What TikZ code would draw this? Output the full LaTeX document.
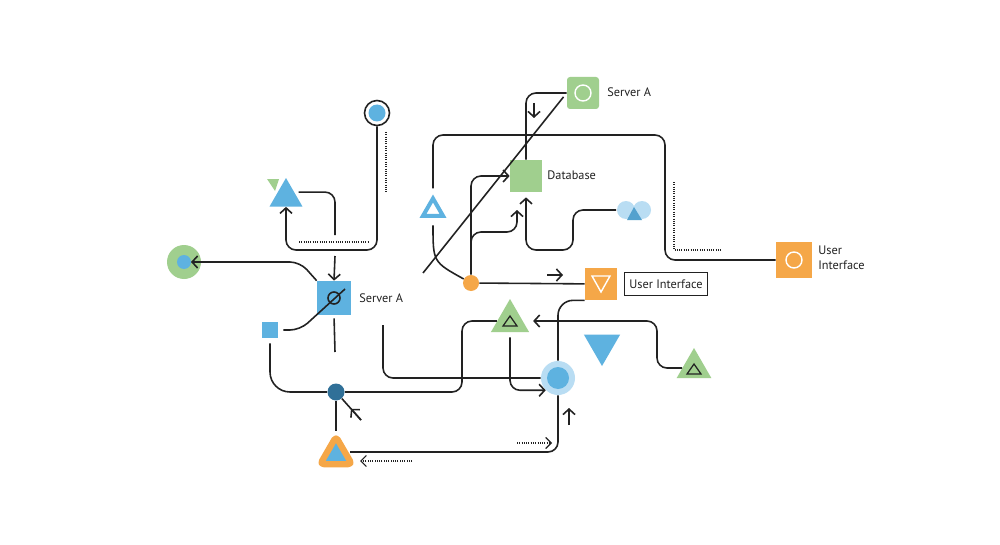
\documentclass[tikz,border=0pt]{standalone}
\usepackage{fontspec}
\setmainfont{PT Sans}
\usetikzlibrary{shapes.geometric,arrows.meta,calc}

\definecolor{lineblk}{RGB}{34,34,34}
\definecolor{nodeblue}{RGB}{94,178,224}
\definecolor{paleblue}{RGB}{185,221,243}
\definecolor{deepblue}{RGB}{48,112,152}
\definecolor{leafgreen}{RGB}{160,207,142}
\definecolor{amber}{RGB}{245,167,72}

\tikzset{
	conn/.style={draw=lineblk, line width=0.9pt, rounded corners=2mm},
	arr/.style={conn, -{Straight Barb[length=1.1mm,width=2.4mm]}},
	dots/.style={draw=lineblk, line width=0.7pt, dash pattern=on 0.5pt off 0.8pt},
	dotarr/.style={dots, -{Straight Barb[length=1.1mm,width=2.2mm]}},
	sqbox/.style={rectangle, minimum size=#1, inner sep=0pt},
	tri/.style={regular polygon, regular polygon sides=3, minimum size=#1, inner sep=0pt},
	lbl/.style={anchor=west, inner sep=0pt, text=lineblk, font=\fontsize{7}{8.5}\selectfont},
}

\begin{document}
\begin{tikzpicture}[x=0.2mm, y=-0.2mm]
	\fill[white] (0,0) rectangle (1000,545);
	\useasboundingbox (0,0) rectangle (1000,545);

	\node[circle, draw=lineblk, line width=0.9pt, fill=white, minimum size=5mm, inner sep=0pt, path picture={\fill[nodeblue] (path picture bounding box.center) circle (1.7mm);}] (topc) at (377,113) {};
	\node[circle, fill=leafgreen, minimum size=6.8mm, inner sep=0pt, path picture={\fill[nodeblue] (path picture bounding box.center) circle (1.4mm);}] (greenc) at (184,262) {};
	\node[tri=7.6mm, fill=nodeblue] (btri) at (286,197) {};
	\fill[leafgreen] (267,179) -- (279,179) -- (275,191) -- cycle;
	\node[sqbox=6.8mm, fill=nodeblue] (srvA) at (334,298) {};
	\node[lbl] (srvAl) at (359,298) {Server A};
	\node[sqbox=3.2mm, fill=nodeblue] (sq) at (270,330) {};
	\node[circle, fill=deepblue, minimum size=3.4mm, inner sep=0pt] (dk) at (336,392) {};
	\node[tri=7.3mm, fill=nodeblue, draw=amber, line width=1.25mm, line join=round, rounded corners=0.7mm] (otri) at (336,455) {};
	\node[circle, fill=paleblue, minimum size=6.8mm, inner sep=0pt, path picture={\fill[nodeblue] (path picture bounding box.center) circle (2.2mm);}] (bc) at (558,378) {};
	\node[tri=8.8mm, fill=leafgreen] (gt1) at (510,321) {};
	\draw[lineblk, line width=0.7pt] ($(gt1)+(-7,5)$) -- ($(gt1)+(0,-5)$) -- ($(gt1)+(7,5)$) -- cycle;
	\node[tri=8mm, fill=leafgreen] (gt2) at (694,368) {};
	\draw[lineblk, line width=0.7pt] ($(gt2)+(-7,6)$) -- ($(gt2)+(0,-4)$) -- ($(gt2)+(7,6)$) -- cycle;
	\node[tri=8.4mm, fill=nodeblue, shape border rotate=180] (inv) at (602,345) {};
	\node[circle, fill=amber, minimum size=3.2mm, inner sep=0pt] (ora) at (471,283) {};
	\node[sqbox=6.4mm, fill=amber] (uim) at (601,284) {};
	\draw[white, line width=0.8pt] ($(uim)+(-9,-8)$) -- ($(uim)+(9,-8)$) -- ($(uim)+(0,8)$) -- cycle;
	\node[draw=lineblk, line width=0.8pt, minimum width=16.6mm, minimum height=4.6mm, inner sep=0pt, text=lineblk, font=\fontsize{7}{8.5}\selectfont] (uibox) at (666,284) {User Interface};
	\node[sqbox=7.2mm, fill=amber, path picture={\draw[white, line width=0.8pt] (path picture bounding box.center) circle (1.6mm);}] (uir) at (794,260) {};
	\node[lbl, align=left] (uirl) at (818,258) {User\\Interface};
	\node[sqbox=6.4mm, fill=leafgreen] (db) at (526,176) {};
	\node[lbl] (dbl) at (547,175) {Database};
	\node[sqbox=6.4mm, fill=leafgreen, rounded corners=0.6mm, path picture={\draw[white, line width=0.8pt] (path picture bounding box.center) circle (1.6mm);}] (srvB) at (583,93) {};
	\node[lbl] (srvBl) at (607,92) {Server A};
	\node[minimum width=7mm, minimum height=3.6mm, inner sep=0pt] (bub) at (634,210) {};
	\fill[paleblue] ($(bub)+(-8,0)$) circle (1.8mm) ($(bub)+(8,0)$) circle (1.8mm);
	\fill[nodeblue!75!deepblue] ($(bub)+(-7,10)$) -- ($(bub)+(0,-3)$) -- ($(bub)+(8,10)$) -- cycle;
	\node[tri=4.6mm, draw=nodeblue, line width=0.8mm, fill=white] (ot) at (433,210) {};

	\coordinate (s1) at (335,235);
	\coordinate (s2) at (335,256);
	\coordinate (s3) at (345,289);
	\coordinate (s4) at (335,352);
	\coordinate (s5) at (361,420);
	\coordinate (s10) at (383,325);
	\coordinate (s11) at (423,273);
	\coordinate (s13) at (471,250);
	\coordinate (s14) at (517,210);
	\coordinate (d1) at (517,443);
	\coordinate (d2) at (552,443);
	\coordinate (d3) at (412,461);
	\coordinate (d4) at (360,461);
	\coordinate (u1) at (569,425);
	\coordinate (u2) at (569,408);
	\coordinate (r1) at (547,275);
	\coordinate (r2) at (563,275);
	\coordinate (w1) at (534,103);
	\coordinate (w2) at (534,118);

	\draw[arr] (topc.south) |- (286,250) -- (btri.south);
	\draw[conn, shorten <=0.8mm] (btri.side 3) -| (s1);
	\draw[arr] (s2) -- (srvA.north);
	\draw[arr, shorten >=1.4mm] (srvA.north west) -- (300,262) -- (greenc.center);
	\draw[lineblk, line width=0.9pt] (srvA) circle (1.2mm);
	\draw[conn, shorten <=1mm] (sq.east) -- (300,330) -- (s3);
	\draw[conn, rounded corners=4mm, shorten <=1mm] (sq.south) |- (dk.west);
	\draw[conn] (dk.east) -| (462,356) |- (gt1.west);
	\draw[conn, shorten <=0.6mm] (srvA.south) -- (s4);
	\draw[conn] (dk) -- (otri);
	\draw[conn] (dk) -- (s5);
	\draw[arr] (s5) -- ($(dk)!.6!(s5)$);
	\draw[conn] ([yshift=0.6mm]otri.east) -| (bc.south);
	\draw[dotarr] (d1) -- (d2);
	\draw[dotarr] (d3) -- (d4);
	\draw[arr] (u1) -- (u2);
	\draw[arr] (r1) -- (r2);
	\draw[arr] (w1) -- (w2);
	\draw[conn] (s10) |- (bc.west);
	\draw[arr, shorten <=1mm] (gt1.south) |- (bc.south west);
	\draw[conn, rounded corners=3mm] (bc.north) |- (uim.south west);
	\draw[arr, shorten >=2mm] (gt2.west) -| (657,345) |- (gt1.east);
	\draw[conn] (ora) -- (uim);
	\draw[conn, shorten >=1mm] (s11) -- (srvB.west);
	\draw[conn, shorten <=1.5mm] (ot.south) .. controls (433,262) .. (ora);
	\draw[conn, shorten <=1.2mm] (ot.north) |- (665,135) |- (uir.west);
	\draw[arr] (ora.north) |- (db.west);
	\draw[arr] (s13) |- (517,232) -- (s14);
	\draw[conn] (db.north) |- (srvB.west);
	\draw[arr, shorten >=1mm] (bub.west) -| (573,250) -| (db.south);

	\draw[dots] (386,132) -- (386,192);
	\draw[dots] (299,242) -- (368,242);
	\draw[dots] (674,182) |- (721,250);
\end{tikzpicture}
\end{document}
